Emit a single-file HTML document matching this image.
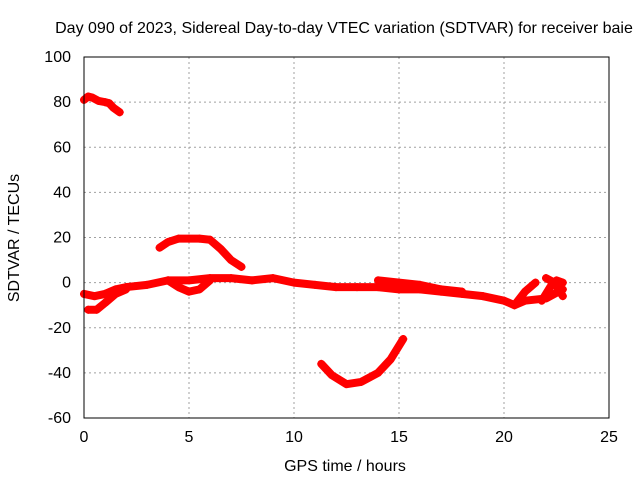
<!DOCTYPE html>
<html><head><meta charset="utf-8"><style>
body{margin:0;background:#fff}
svg text{font-family:"Liberation Sans",sans-serif;font-size:16px;fill:#000}
</style></head><body>
<svg id="chart" width="640" height="480">
<text x="344" y="33" text-anchor="middle">Day 090 of 2023, Sidereal Day-to-day VTEC variation (SDTVAR) for receiver baie</text>
<text x="345" y="471" text-anchor="middle">GPS time / hours</text>
<text transform="translate(19,238) rotate(-90)" text-anchor="middle">SDTVAR / TECUs</text>
<g id="grid"></g><g id="series"></g>
<rect x="84" y="57" width="525" height="361" fill="none" stroke="#000" stroke-width="1"/>
</svg>
<script>
const xTicks=[0,5,10,15,20,25];
const yTicks=[-60,-40,-20,0,20,40,60,80,100];
const segTopH=[0,0.2,0.4,0.7,1.0,1.2,1.4,1.7];
const segTopV=[81,82.5,82,80.5,80,79.5,77.5,75.5];
const segHumpH=[3.6,4.0,4.5,5.0,5.5,6.0,6.5,7.0,7.5];
const segHumpV=[15.5,18,19.5,19.5,19.5,19,15,10,7];
const segDipH=[11.3,11.8,12.5,13.2,14.0,14.6,15.2];
const segDipV=[-36,-41,-45,-44,-40,-34,-25];
const segMainH=[0,0.5,1,1.5,2,3,4,5,6,7,8,9,10,11,12,13,14,15,16,17,18,19,20,20.5,21,22,22.8];
const segMainV=[-5,-6,-5,-3,-2,-1,1,1,2,2,1,2,0,-1,-2,-2,-2,-3,-3,-4,-5,-6,-8,-10,-8,-7,-3];
const segLowH=[0.2,0.6,1,1.5,2];
const segLowV=[-12,-12,-9,-5,-3];
const segLoopH=[4,4.5,5,5.5,6];
const segLoopV=[1,-2,-4,-3,1];
const segUpperH=[14,15,16,17,18];
const segUpperV=[1,0,-1,-3,-4];
const segRiseH=[20.5,21,21.5];
const segRiseV=[-10,-4,0];
const segEndH=[21.8,22.2,22.5,22.8];
const segEndV=[-8,-2,1,0];
const segEnd2H=[22,22.4,22.8];
const segEnd2V=[2,0,-6];
const X=h=>84+21*h, Y=v=>418-(v+60)*361/160;
const ns='http://www.w3.org/2000/svg';
const g=document.getElementById('grid'), s=document.getElementById('series');
function mk(t,a,p){const e=document.createElementNS(ns,t);for(const k in a)e.setAttribute(k,a[k]);p.appendChild(e);return e;}
xTicks.forEach(t=>{
 const l=mk('line',{x1:X(t),x2:X(t),y1:57,y2:418,stroke:'#a0a0a0','stroke-dasharray':'2,3'},g);
 
 
 const tx=mk('text',{x:X(t),y:442,'text-anchor':'middle'},g);tx.textContent=t;
 
 
});
yTicks.forEach(t=>{
 const l=mk('line',{x1:84,x2:609,y1:Y(t),y2:Y(t),stroke:'#a0a0a0','stroke-dasharray':'2,3'},g);
 
 
 const tx=mk('text',{x:71,y:Y(t)+5,'text-anchor':'end'},g);tx.textContent=t;
 
 
});
const segs=[[segTopH,segTopV],[segHumpH,segHumpV],[segDipH,segDipV],[segMainH,segMainV],[segLowH,segLowV],[segLoopH,segLoopV],[segUpperH,segUpperV],[segRiseH,segRiseV],[segEndH,segEndV],[segEnd2H,segEnd2V]];
segs.forEach(([H,V])=>{
 const pts=H.map((h,i)=>X(h)+','+Y(V[i])).join(' ');
 const p=mk('polyline',{points:pts,fill:'none',stroke:'#ff0000','stroke-width':8,'stroke-linejoin':'round','stroke-linecap':'round'},s);
 
 
 H.forEach((h,i)=>{
  const m=mk('path',{d:`M${X(h)-4},${Y(V[i])}h8M${X(h)},${Y(V[i])-4}v8`,stroke:'#ff0000','stroke-width':1.5},s);
  
  
 });
});
</script>
</body></html>
